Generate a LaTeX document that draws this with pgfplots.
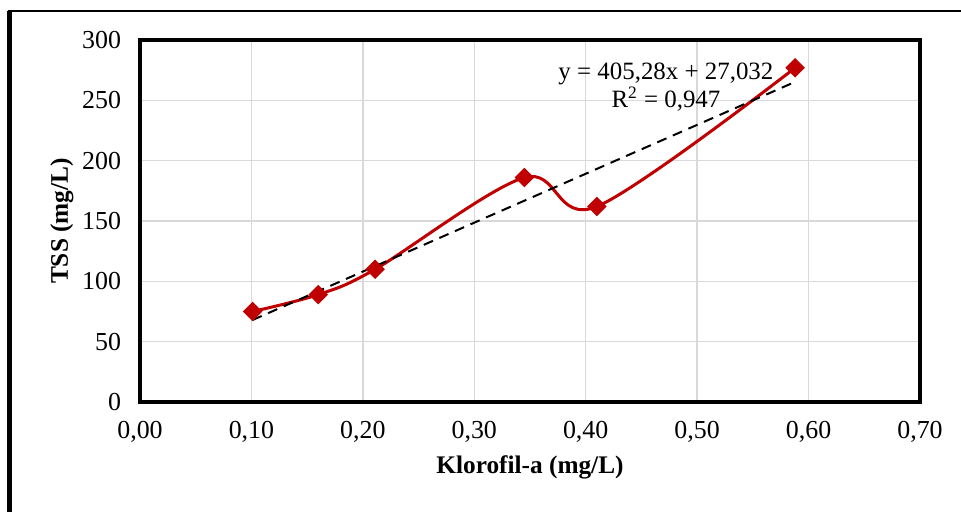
\documentclass[border=0pt]{standalone}
\usepackage{pgfplots}
\pgfplotsset{compat=1.18}
\usepackage{fontspec}
\setmainfont{Liberation Serif}
\definecolor{dred}{HTML}{C00000}
\definecolor{gridgray}{HTML}{D9D9D9}

\begin{document}
\begin{tikzpicture}[x=1bp,y=1bp]
\begin{axis}[name=ax,at={(0,0)},anchor=south west,scale only axis,
  width=390bp,height=181bp,
  xmin=0,xmax=0.7,ymin=0,ymax=300,
  xtick={0,0.1,...,0.7},ytick={0,50,...,300},
  grid=major,major grid style={gridgray,line width=0.7bp},
  major tick length=0pt,
  axis line style={black,line width=1.8bp},
  font=\fontsize{13}{15}\selectfont,
  /pgf/number format/assume math mode=true,
  xticklabel style={/pgf/number format/.cd,fixed,fixed zerofill,precision=2,use comma},
  yticklabel style={/pgf/number format/.cd,fixed,use comma},
  xticklabel shift=6bp,yticklabel shift=6bp,
  xlabel={\bfseries Klorofil-a (mg/L)},
  ylabel={\bfseries TSS (mg/L)},
  xlabel style={at={(rel axis cs:0.5,0)},anchor=center,yshift=-32.5bp,font=\fontsize{12.7}{15}\selectfont},
  ylabel style={at={(rel axis cs:0,0.5)},anchor=center,yshift=39bp,font=\fontsize{12.7}{15}\selectfont},
  clip=false]
\addplot[dred,line width=1.5bp,smooth,tension=0.55,
  mark=square*,mark size=3.2bp,mark options={solid,rotate=45,fill=dred,draw=dred,line width=0.5bp}]
  coordinates {(0.101,75) (0.160,89) (0.211,110) (0.345,186) (0.410,162) (0.588,277)};
\addplot[black,line width=1bp,dash pattern=on 5bp off 3.5bp]
  coordinates {(0.101,67.96) (0.588,265.33)};
\node[align=center,font=\fontsize{12.5}{14}\selectfont] at (axis cs:0.472,261)
  {y = 405,28x + 27,032\\R\textsuperscript{2} = 0,947};
\end{axis}
\path[use as bounding box] (-70bp,-55bp) rectangle (410.5bp,201bp);
\draw[line width=2.5bp] (-65bp,-60bp) -- (-65bp,195.5bp);
\draw[line width=1.3bp] (-66.2bp,195.5bp) -- (415bp,195.5bp);
\end{tikzpicture}
\end{document}
